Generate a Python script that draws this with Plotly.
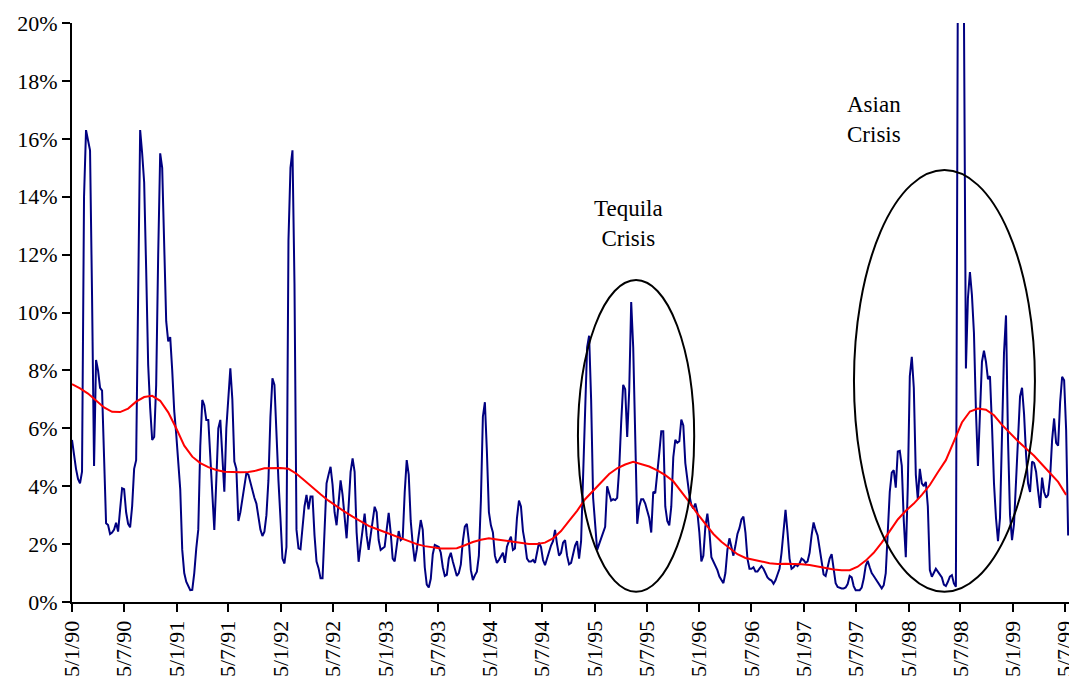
from datetime import date, timedelta
import plotly.graph_objects as go

# Weekly spread series (in %), starting 5 Jan 1990
start = date(1990, 1, 5)
spread = [
    5.6, 5.0, 4.6, 4.25, 4.1, 4.5, 14.0, 16.3, 15.9, 15.6,
    10.6, 4.7, 8.36, 8.0, 7.4, 7.3, 5.0, 2.72, 2.66, 2.35,
    2.4, 2.5, 2.74, 2.43, 3.2, 3.93, 3.9, 3.1, 2.7, 2.58,
    3.3, 4.6, 4.9, 10.0, 16.3, 15.5, 14.5, 11.5, 8.2, 6.7,
    5.6, 5.7, 7.5, 12.0, 15.5, 15.0, 12.5, 9.7, 9.0, 9.15,
    8.0, 6.6, 5.8, 4.9, 3.9, 1.8, 1.0, 0.7, 0.55, 0.41,
    0.42, 1.0, 1.85, 2.5, 5.4, 6.98, 6.8, 6.29, 6.29, 5.0,
    3.4, 2.49, 4.2, 6.0, 6.29, 5.1, 3.81, 6.0, 7.0, 8.07,
    7.0, 4.85, 4.6, 2.8, 3.1, 3.6, 4.1, 4.45, 4.4, 4.1,
    3.85, 3.6, 3.4, 2.85, 2.5, 2.28, 2.43, 3.0, 4.2, 6.4,
    7.73, 7.5, 5.7, 4.2, 2.9, 1.5, 1.33, 1.9, 12.5, 15.0,
    15.6, 11.0, 2.5, 1.85, 1.82, 2.5, 3.3, 3.7, 3.2, 3.64,
    3.64, 2.3, 1.4, 1.17, 0.82, 0.82, 2.8, 4.1, 4.4, 4.67,
    4.05, 3.1, 2.65, 3.4, 4.2, 3.7, 3.0, 2.2, 3.3, 4.5,
    4.96, 4.5, 2.4, 1.39, 1.95, 2.6, 3.05, 2.3, 1.8, 2.3,
    2.9, 3.29, 3.1, 2.14, 1.8, 1.85, 1.91, 2.5, 3.08, 2.4,
    1.5, 1.4, 2.0, 2.45, 2.14, 2.2, 3.8, 4.9, 4.4, 2.8,
    2.0, 1.4, 1.8, 2.3, 2.83, 2.49, 1.2, 0.6, 0.5, 0.8,
    1.65, 1.97, 1.93, 1.9, 1.7, 1.2, 0.9, 0.94, 1.5, 1.7,
    1.4, 1.1, 0.9, 1.0, 1.3, 2.1, 2.6, 2.7, 2.1, 1.1,
    0.76, 0.92, 1.05, 1.6, 3.5, 6.4, 6.9, 5.2, 3.1, 2.65,
    2.4, 1.6, 1.35, 1.45, 1.6, 1.7, 1.35, 1.91, 2.1, 2.26,
    1.8, 1.85, 2.9, 3.5, 3.3, 2.45, 2.05, 1.5, 1.4, 1.4,
    1.45, 1.35, 1.7, 2.05, 1.9, 1.45, 1.27, 1.5, 1.8, 1.95,
    2.1, 2.49, 2.0, 1.6, 1.7, 2.05, 2.14, 1.6, 1.3, 1.35,
    1.65, 1.95, 2.1, 1.5, 2.1, 4.4, 6.6, 8.8, 9.2, 7.0,
    3.6, 2.5, 1.8, 2.0, 2.2, 2.35, 2.6, 4.0, 3.7, 3.5,
    3.55, 3.52, 3.6, 4.6, 6.2, 7.5, 7.35, 5.7, 7.3, 10.36,
    8.8, 6.0, 2.7, 3.3, 3.55, 3.55, 3.4, 3.15, 2.9, 2.4,
    3.81, 3.76, 4.35, 5.14, 5.9, 5.9, 3.3, 2.8, 2.65, 3.3,
    5.0, 5.6, 5.5, 5.55, 6.3, 6.1, 4.8, 4.15, 3.7, 3.35,
    3.23, 3.4, 3.1, 2.4, 1.4, 1.6, 2.6, 3.05, 2.45, 1.55,
    1.4, 1.3, 1.1, 0.88, 0.76, 0.65, 1.0, 1.8, 2.2, 1.85,
    1.6, 1.95, 2.35, 2.55, 2.85, 2.95, 2.4, 1.5, 1.15, 1.15,
    1.2, 1.05, 1.05, 1.15, 1.24, 1.15, 1.0, 0.85, 0.78, 0.74,
    0.63, 0.75, 0.95, 1.15, 1.7, 2.5, 3.18, 2.4, 1.5, 1.15,
    1.2, 1.3, 1.24, 1.33, 1.5, 1.45, 1.35, 1.4, 1.7, 2.3,
    2.75, 2.49, 2.3, 1.85, 1.3, 0.95, 0.9, 1.2, 1.5, 1.65,
    1.1, 0.65, 0.52, 0.48, 0.47, 0.47, 0.5, 0.62, 0.9, 0.85,
    0.55, 0.41, 0.41, 0.41, 0.5, 0.8, 1.25, 1.42, 1.2, 1.0,
    0.9, 0.78, 0.68, 0.58, 0.47, 0.58, 1.0, 2.4, 3.8, 4.47,
    4.55, 3.95, 5.2, 5.22, 4.7, 2.8, 1.55, 4.0, 7.8, 8.47,
    7.4, 4.4, 3.55, 4.6, 4.1, 4.0, 4.15, 3.3, 1.1, 0.87,
    0.99, 1.15, 1.05, 0.95, 0.85, 0.6, 0.55, 0.7, 0.88, 0.93,
    0.64, 0.53, 22.0, 24.0, 24.0, 20.5, 8.07, 10.5, 11.4, 10.6,
    9.3, 6.6, 4.7, 6.5, 8.3, 8.68, 8.3, 7.7, 7.8, 6.1,
    4.1, 2.9, 2.1, 2.9, 5.8, 8.6, 9.9, 5.6, 3.0, 2.14,
    2.7, 4.2, 5.6, 7.1, 7.4, 6.5, 5.1, 4.1, 3.8, 4.85,
    4.8, 4.5, 3.85, 3.25, 4.3, 3.8, 3.6, 3.7, 4.3, 5.6,
    6.34, 5.5, 5.4, 6.9, 7.78, 7.66, 5.94, 2.3,
]

# Smoothed trend (in %), every four weeks from the same start
trend = [
    7.53, 7.38, 7.2, 6.95, 6.72, 6.57, 6.56, 6.68, 6.92, 7.08,
    7.12, 6.95, 6.55, 6.0, 5.4, 5.02, 4.8, 4.66, 4.56, 4.5,
    4.48, 4.48, 4.49, 4.54, 4.62, 4.63, 4.63, 4.6, 4.43, 4.2,
    3.95, 3.72, 3.5, 3.3, 3.12, 2.95, 2.8, 2.63, 2.52, 2.42,
    2.3, 2.2, 2.1, 2.0, 1.93, 1.88, 1.85, 1.85, 1.86, 1.96,
    2.07, 2.15, 2.2, 2.16, 2.12, 2.1, 2.05, 2.0, 2.0, 2.05,
    2.2, 2.45, 2.8, 3.15, 3.55, 3.85, 4.15, 4.42, 4.62, 4.75,
    4.84, 4.76, 4.68, 4.55, 4.38, 4.17, 3.82, 3.45, 3.05, 2.7,
    2.35, 2.08, 1.85, 1.65, 1.52, 1.45, 1.4, 1.34, 1.31, 1.32,
    1.32, 1.3, 1.28, 1.22, 1.16, 1.12, 1.1, 1.1, 1.22, 1.43,
    1.7, 2.05, 2.45, 2.85, 3.15, 3.4, 3.7, 4.04, 4.48, 4.9,
    5.55, 6.2, 6.58, 6.68, 6.64, 6.45, 6.12, 5.82, 5.55, 5.3,
    5.05, 4.75, 4.45, 4.15, 3.7,
]

tick_dates = [date(y, m, 5) for y in range(1990, 2000) for m in (1, 7)]
tick_text = [f"5/{d.month}/{d.year % 100:02d}" for d in tick_dates]

weeks = [start + timedelta(days=7 * i) for i in range(len(spread))]
months4 = [start + timedelta(days=28 * k) for k in range(len(trend))]

fig = go.Figure()
fig.add_trace(go.Scatter(x=weeks, y=spread, mode="lines",
                         line=dict(color="#000080", width=2), hoverinfo="skip"))
fig.add_trace(go.Scatter(x=months4, y=trend, mode="lines",
                         line=dict(color="#FF0000", width=2), hoverinfo="skip"))

# Crisis ellipses
fig.add_shape(type="circle", xref="x", yref="y",
              x0="1994-11-07", x1="1995-12-18", y0=0.35, y1=11.12,
              line=dict(color="black", width=2))
fig.add_shape(type="circle", xref="x", yref="y",
              x0="1997-06-28", x1="1999-03-22", y0=0.35, y1=14.92,
              line=dict(color="black", width=2))

fig.add_annotation(x="1995-05-01", y=13.09, text="Tequila<br>Crisis", showarrow=False,
                   font=dict(family="Liberation Serif", size=23, color="black"))
fig.add_annotation(x="1997-09-06", y=16.68, text="Asian<br>Crisis", showarrow=False,
                   font=dict(family="Liberation Serif", size=23, color="black"))

fig.update_layout(
    width=1069, height=680,
    margin=dict(l=72, r=0, t=23, b=78, autoexpand=False),
    paper_bgcolor="white", plot_bgcolor="white",
    showlegend=False,
    font=dict(family="Liberation Serif", size=22, color="black"),
    xaxis=dict(
        type="date", automargin=False,
        range=[start, start + timedelta(days=3482)],
        tickmode="array", tickvals=tick_dates, ticktext=tick_text,
        tickangle=-90, ticks="outside", ticklen=8, tickwidth=2, tickcolor="black",
        ticklabeloverflow="allow",
        showline=True, linecolor="black", linewidth=2,
        showgrid=False, zeroline=False,
        tickfont=dict(family="Liberation Serif", size=22, color="black"),
    ),
    yaxis=dict(
        range=[0, 20], dtick=2, ticksuffix="%", automargin=False,
        ticks="outside", ticklen=8, tickwidth=2, tickcolor="black",
        showline=True, linecolor="black", linewidth=2,
        showgrid=False, zeroline=False,
        tickfont=dict(family="Liberation Serif", size=22, color="black"),
    ),
)

fig.write_html("out.html")
